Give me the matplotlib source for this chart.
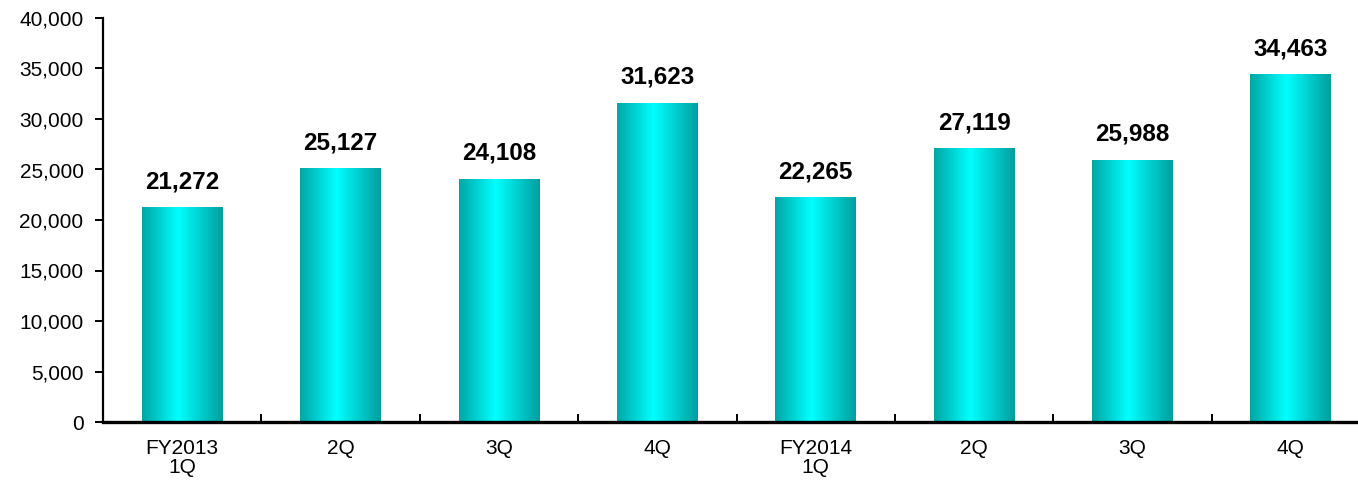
import matplotlib as mpl
mpl.use('Agg')
import matplotlib.pyplot as plt
from matplotlib.colors import LinearSegmentedColormap
from matplotlib.ticker import FuncFormatter, FixedLocator
import numpy as np

plt.rcParams['font.family'] = ['Liberation Sans', 'DejaVu Sans']

categories = ['FY2013\n1Q', '2Q', '3Q', '4Q', 'FY2014\n1Q', '2Q', '3Q', '4Q']
values = [21272, 25127, 24108, 31623, 22265, 27119, 25988, 34463]

bar_width = 0.51
grad = LinearSegmentedColormap.from_list(
    'teal', [(0.0, '#00a6a6'), (0.45, '#00ffff'), (1.0, '#009e9e')])

fig = plt.figure(figsize=(13.58, 4.82), dpi=100)
ax = fig.add_axes([103 / 1358, 60 / 482, 1267 / 1358, 404 / 482])

x = np.arange(len(values))
bars = ax.bar(x, values, width=bar_width, color='none', zorder=2)
strip = np.linspace(0, 1, 256).reshape(1, -1)
for rect in bars:
    x0 = rect.get_x()
    img = ax.imshow(strip, cmap=grad, aspect='auto', zorder=2,
                    extent=[x0, x0 + rect.get_width(), 0, rect.get_height()])
    img.set_clip_path(rect)

for xi, v in zip(x, values):
    ax.annotate('{:,}'.format(v), (xi, v), xytext=(0, 10),
                textcoords='offset points', ha='center', va='bottom',
                fontsize=17.5, fontweight='bold')

ax.set_xlim(-0.5, len(values) - 0.5)
ax.set_ylim(0, 40000)
ax.set_yticks(np.arange(0, 40001, 5000))
ax.yaxis.set_major_formatter(FuncFormatter(lambda v, p: '{:,}'.format(int(v))))
ax.tick_params(axis='y', labelsize=15, direction='out', length=6,
               width=1.4, pad=8)

ax.set_xticks(x)
ax.set_xticklabels(categories, linespacing=1.0)
ax.tick_params(axis='x', which='major', length=0, labelsize=15, pad=12)
ax.xaxis.set_minor_locator(FixedLocator(np.arange(0.5, len(values) - 0.5, 1)))
ax.tick_params(axis='x', which='minor', direction='in', length=6, width=1.4)

for side in ['top', 'right']:
    ax.spines[side].set_visible(False)
ax.spines['left'].set_linewidth(1.6)
ax.spines['bottom'].set_linewidth(2.4)

fig.savefig('out.png', dpi=100)
